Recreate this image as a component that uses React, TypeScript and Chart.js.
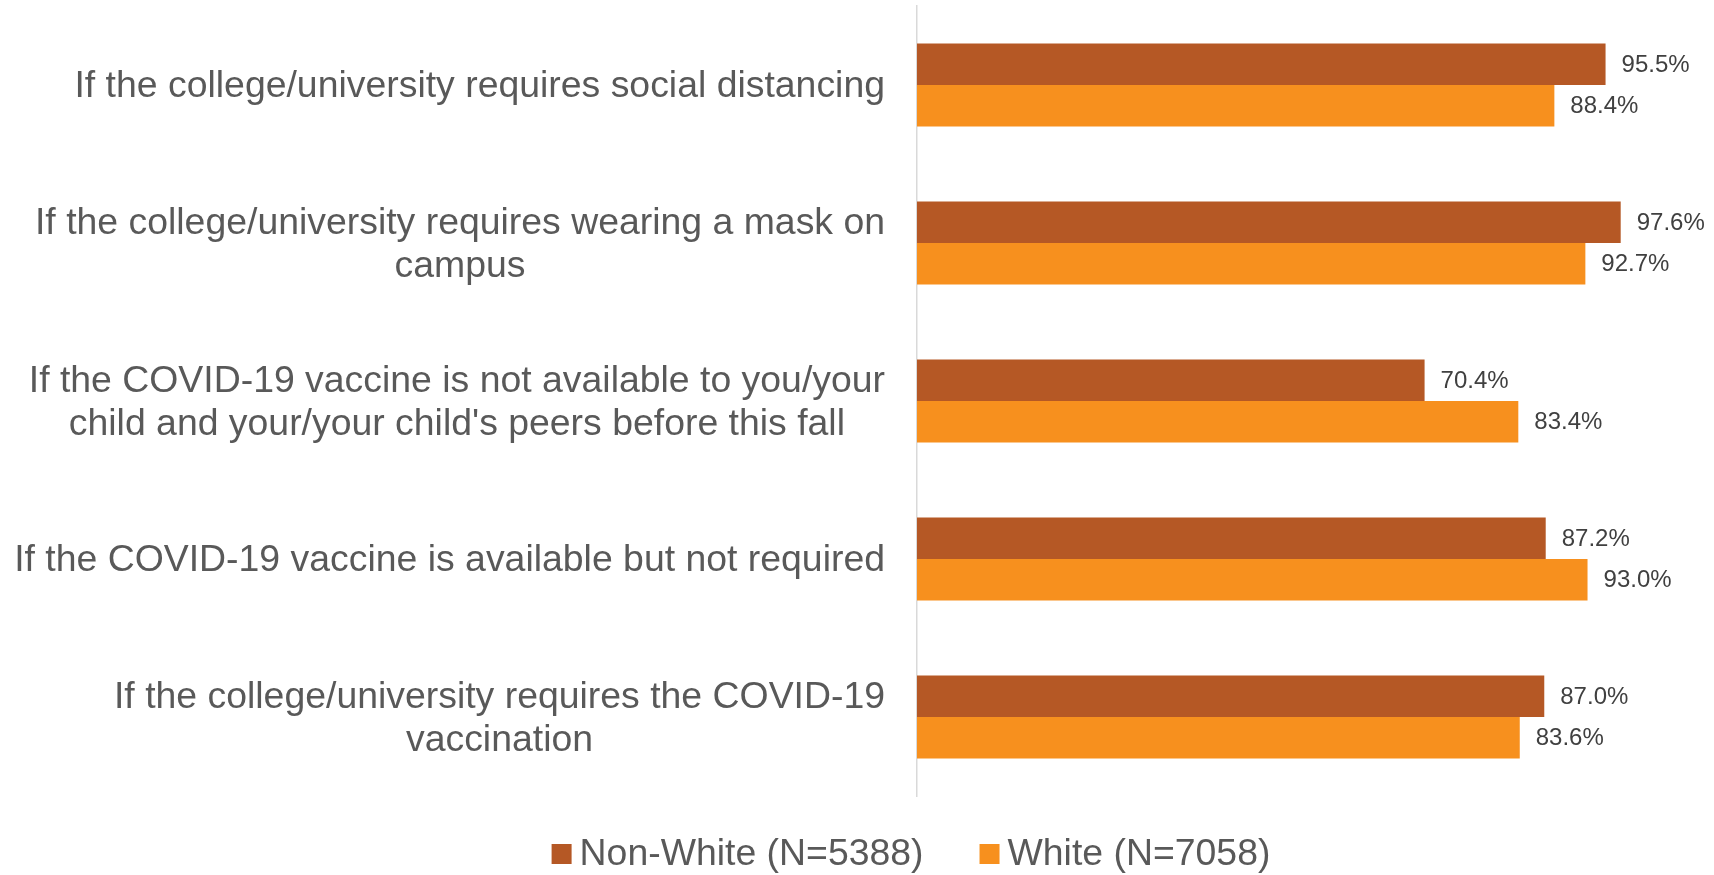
import React, { useEffect, useRef } from "react";
import { Chart, registerables } from "chart.js";

Chart.register(...registerables);

const categories: string[][] = [
  ["If the college/university requires social distancing"],
  ["If the college/university requires wearing a mask on", "campus"],
  [
    "If the COVID-19 vaccine is not available to you/your",
    "child and your/your child's peers before this fall",
  ],
  ["If the COVID-19 vaccine is available but not required"],
  ["If the college/university requires the COVID-19", "vaccination"],
];
const seriesNames = ["Non-White (N=5388)", "White (N=7058)"];
const nonWhite = [95.5, 97.6, 70.4, 87.2, 87.0];
const white = [88.4, 92.7, 83.4, 93.0, 83.6];
const seriesColors = ["#B55825", "#F7901E"];

const FONT = "'Liberation Sans', Arial, sans-serif";

const categoryLabelsPlugin = {
  id: "categoryLabels",
  afterDraw(chart: any) {
    const ctx = chart.ctx;
    const yScale = chart.scales.y;
    const right = chart.chartArea.left - 32;
    const lineH = 43;
    ctx.save();
    ctx.font = `37.4px ${FONT}`;
    ctx.fillStyle = "#595959";
    ctx.textAlign = "center";
    ctx.textBaseline = "middle";
    categories.forEach((lines, i) => {
      const cy = yScale.getPixelForValue(i) + 2;
      const maxW = Math.max(...lines.map((l) => ctx.measureText(l).width));
      const cx = right - maxW / 2;
      lines.forEach((line, j) => {
        ctx.fillText(line, cx, cy + (j - (lines.length - 1) / 2) * lineH);
      });
    });
    ctx.restore();
  },
};

const valueLabelsPlugin = {
  id: "valueLabels",
  afterDatasetsDraw(chart: any) {
    const ctx = chart.ctx;
    ctx.save();
    ctx.font = `24px ${FONT}`;
    ctx.fillStyle = "#404040";
    ctx.textAlign = "left";
    ctx.textBaseline = "middle";
    chart.data.datasets.forEach((ds: any, di: number) => {
      const meta = chart.getDatasetMeta(di);
      meta.data.forEach((el: any, i: number) => {
        ctx.fillText(ds.data[i].toFixed(1) + "%", el.x + 16, el.y + 1);
      });
    });
    ctx.restore();
  },
};

const legendPlugin = {
  id: "customLegend",
  afterDraw(chart: any) {
    const ctx = chart.ctx;
    ctx.save();
    ctx.font = `37.4px ${FONT}`;
    ctx.textBaseline = "middle";
    ctx.textAlign = "left";
    const box = 20;
    const textGap = 8;
    const itemGap = 56;
    const widths = seriesNames.map((n) => box + textGap + ctx.measureText(n).width);
    const total = widths.reduce((a, b) => a + b, 0) + itemGap * (seriesNames.length - 1);
    let x = 911 - total / 2;
    const cy = chart.height - 21;
    seriesNames.forEach((name, i) => {
      ctx.fillStyle = seriesColors[i];
      ctx.fillRect(x, cy - box / 2, box, box);
      ctx.fillStyle = "#595959";
      ctx.fillText(name, x + box + textGap, cy + 1);
      x += widths[i] + itemGap;
    });
    ctx.restore();
  },
};

export default function App() {
  const canvasRef = useRef<HTMLCanvasElement | null>(null);

  useEffect(() => {
    if (!canvasRef.current) return;
    const chart = new Chart(canvasRef.current, {
      type: "bar",
      data: {
        labels: categories.map((c) => c.join(" ")),
        datasets: [
          {
            label: seriesNames[0],
            data: nonWhite,
            backgroundColor: seriesColors[0],
            categoryPercentage: 0.525,
            barPercentage: 1.0,
          },
          {
            label: seriesNames[1],
            data: white,
            backgroundColor: seriesColors[1],
            categoryPercentage: 0.525,
            barPercentage: 1.0,
          },
        ],
      },
      options: {
        indexAxis: "y",
        animation: false,
        responsive: true,
        maintainAspectRatio: false,
        layout: { padding: { left: 0, top: 6, right: 76, bottom: 79 } },
        plugins: {
          legend: { display: false },
          tooltip: { enabled: false },
        },
        scales: {
          x: { display: false, min: 0, max: 100 },
          y: {
            type: "category",
            grid: { display: false },
            ticks: { display: false },
            border: { display: true, color: "#d9d9d9", width: 1.5 },
            afterFit: (s: any) => {
              s.width = 917;
            },
          },
        },
      },
      plugins: [categoryLabelsPlugin, valueLabelsPlugin, legendPlugin],
    } as any);
    return () => chart.destroy();
  }, []);

  return (
    <div
      style={{
        position: "absolute",
        left: 0,
        top: 0,
        width: 1714,
        height: 875,
        background: "#ffffff",
      }}
    >
      <canvas ref={canvasRef} />
    </div>
  );
}
